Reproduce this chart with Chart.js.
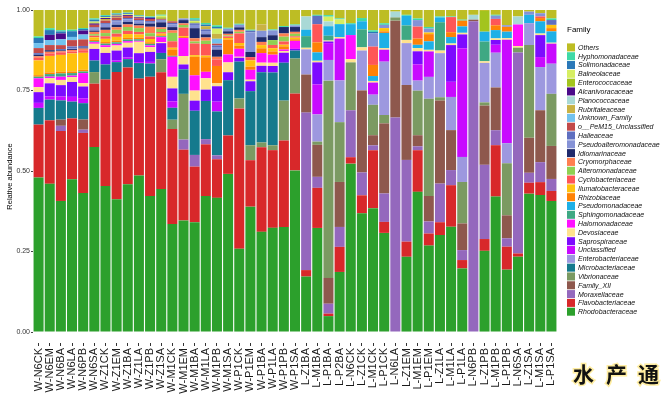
<!DOCTYPE html>
<html><head><meta charset="utf-8">
<script src="https://cdn.jsdelivr.net/npm/chart.js@4.4.1/dist/chart.umd.min.js"></script>
<style>html,body{margin:0;padding:0;background:#fff;overflow:hidden}#c{display:block}</style>
</head><body>
<canvas id="c" width="667" height="397"></canvas>
<script>
const samples = ["W-N6CK","W-N6EM","W-N6BA","W-N6LA","W-N6PB","W-N6SA","W-Z1CK","W-Z1EM","W-Z1BA","W-Z1LA","W-Z1PB","W-Z1SA",
"W-M1CK","W-M1EM","W-M1BA","W-M1LA","W-M1PB","W-M1SA","W-P1CK","W-P1EM","W-P1BA","W-P1LA","W-P1PB","W-P1SA",
"L-Z1BA","L-M1BA","L-P1BA","L-P2BA","L-N6CK","L-Z1CK","L-M1CK","L-P1CK","L-N6LA","L-Z1EM","L-M1EM","L-P1EM",
"L-Z1LA","L-M1LA","L-P1LA","L-N6PB","L-Z1PB","L-M1PB","L-P1PB","L-N6SA","L-Z1SA","L-M1SA","L-P1SA"];

// legend order (top to bottom)
const families = ["Others","Hyphomonadaceae","Solimonadaceae","Balneolaceae","Enterococcaceae","Alcanivoracaceae",
"Planococcaceae","Rubritaleaceae","Unknown_Family","o__PeM15_Unclassified","Halieaceae","Pseudoalteromonadaceae",
"Idiomarinaceae","Cryomorphaceae","Alteromonadaceae","Cyclobacteriaceae","Ilumatobacteraceae","Rhizobiaceae",
"Pseudomonadaceae","Sphingomonadaceae","Halomonadaceae","Devosiaceae","Saprospiraceae","Unclassified",
"Enterobacteriaceae","Microbacteriaceae","Vibrionaceae","Family_XII","Moraxellaceae","Flavobacteriaceae","Rhodobacteraceae"];

const colors = ["#bdbd24","#3fd9a6","#2a78b8","#d6ee62","#a3c41e","#4b0a8a",
"#a9d9d6","#c9b244","#72c2ee","#c24a4a","#5f6fc0","#8592d6",
"#1f2a6c","#ff7f50","#8fd052","#ff5656","#ffc20e","#ff8205",
"#1eb0e6","#3fa883","#ff10ff","#ffe28e","#7d0aff","#c80aff",
"#9d98df","#157a8d","#7b9a62","#8e584d","#9468bd","#d8282a","#2ca02c"];

// values in percent, per family, one per sample
const Rhodobacteraceae = [49.1,46.5,40.3,48.2,42.5,57.5,45.6,41.5,46.0,49.3,42.2,45.3, 33.5,34.2,33.8,42.0,41.0,49.8,26.0,39.4,31.4,32.2,32.7,50.3, 17.2,32.2,5.0,18.7,52.4,36.9,37.9,30.7,0,23.4,43.1,26.5, 30.1,32.7,19.8,0,25.5,42.5,19.3,23.4,43.1,42.5,40.5];
const Flavobacteriaceae = [16.8,19.9,21.5,19.2,18.4,19.7,33.2,39.8,36.4,30.5,37.0,37.0, 29.4,21.7,17.1,16.0,11.8,12.1,43.8,14.6,26.5,24.0,26.9,23.9, 2.0,12.4,0.8,7.8,2.0,5.6,17.7,3.4,0,4.7,12.8,3.7, 4.0,12.9,2.6,0,3.7,16.1,7.1,1.0,3.4,4.0,3.1];
const Moraxellaceae = [0,0,1.6,0,1.0,0,0,0,0,0,0,0, 0,3.1,3.6,1.6,1.2,0,0,0,0,0,0,0, 48.8,3.4,3.1,6.2,14.6,7.1,1.5,8.8,66.5,25.4,1.2,3.7, 12.0,4.7,3.1,96.4,23.3,4.7,2.6,62.4,3.1,6.2,3.7];
const Family_XII = [0,0,1.9,0,3.1,0,0,0,0,0,0,0, 0,0,0,0,0,0,0,0,0,0,0,0, 11.8,9.9,8.1,14.0,0,25.5,3.1,21.7,30.0,23.3,3.4,7.8, 25.8,12.4,8.3,0.5,18.6,13.4,7.1,0,10.9,16.1,10.2];
const Vibrionaceae = [0,0,0,0,0,3.6,0,0,0,0,0,4.1, 2.9,14.0,0,0,0,0,3.1,4.7,1.5,1.5,12.4,10.9, 0,1.0,62.0,18.6,14.9,0,9.3,2.6,1.0,0,13.7,29.8, 1.0,0,12.9,0,1.0,0,16.1,1.5,28.9,0,16.1];
const Microbacteriaceae = [5.3,6.5,5.9,5.3,5.0,3.6,4.7,3.1,2.6,4.9,4.1,2.0, 3.7,7.5,13.6,11.8,13.4,17.4,11.5,17.0,22.0,22.5,11.8,2.5, 0,0,0,0,0,0,0,0,0,0,0,0, 0,0,0,0,0,0,0,0,0,0,0];
const Enterobacteriaceae = [0,0,0,0,0,0,0,0,0,0,0,0, 0,0,0,0,0,0,0,0,0,0,0,0, 7.8,8.4,6.5,13.0,0,12.4,3.1,16.5,0,13.0,3.1,6.7, 13.7,10.3,7.8,0,12.4,10.9,6.2,0,6.8,13.4,9.3];
const Unclassified = [1.6,1.0,1.2,1.5,1.5,0,0,0.5,0.5,0.3,0.5,0, 2.0,0,0,0,3.0,0,0,0,0,0,0,0, 0,9.3,5.3,13.0,0,0,3.7,3.7,0,0,5.0,7.8, 0,4.7,33.8,0,0,2.5,32.0,0,0,3.1,6.2];
const Saprospiraceae = [3.4,4.1,3.5,4.7,3.6,3.6,3.6,3.1,3.1,2.8,3.1,3.1, 4.0,1.5,3.1,3.5,4.7,2.5,1.2,3.1,2.0,2.0,3.1,0.5, 0,6.8,0.5,0,0,0,0,0,0,0,4.0,0, 0,11.4,4.3,0,0,1.5,0,0,0,6.8,0];
const Devosiaceae = [1.6,1.6,1.6,1.5,1.0,1.6,1.8,1.6,1.5,3.6,1.5,0.3, 3.6,2.6,3.1,3.5,1.0,3.1,0.3,0.5,1.0,1.0,0.5,0, 0.5,0.5,0.3,0.5,1.0,1.0,0.5,0.5,0,1.0,1.0,0.5, 0.8,0.5,0.5,0,0.5,0.5,0.5,0.5,0,0.5,0.3];
const Halomonadaceae = [2.8,0.5,1.0,0.5,3.1,0.5,0.6,0.5,0.5,0.3,0.5,1.6, 6.2,5.5,4.7,2.0,0,2.5,2.5,3.1,3.0,2.5,0.5,2.5, 0,0,0,0,7.5,0,0,0,0,0,0,0, 0,0,0,0,0,0,0,6.7,0,0,0];
const Sphingomonadaceae = [0.5,0.8,1.0,0.8,0.5,0.3,0.5,0.5,0.5,0.5,0.5,0.3, 0.3,0,0,0,0,0,0,0,0,0,0,0, 3.6,0,1.5,0,0,5.6,0,0,0,4.5,0,0, 8.8,0,0,0,6.2,0,0,0,0,0,0];
const Pseudomonadaceae = [0,0,0,0,0,0,0,0,0,0,0,0, 0,0,0,0,0,0,0,0,0,0,0,0, 2.0,2.6,3.0,4.0,3.4,2.5,1.5,4.7,0,3.0,1.0,2.6, 1.5,2.0,2.0,0,3.1,2.6,2.0,0,2.6,3.8,3.5];
const Rhizobiaceae = [0.5,0.5,0.5,0.5,0.5,0.4,0.5,0.5,0.5,0.5,0.5,0.3, 2.0,0.3,5.7,4.5,5.2,4.7,1.0,1.0,1.5,1.0,1.0,0.5, 0,3.1,0,0,0,0,3.4,0.5,0,0,1.9,2.2, 0,1.5,1.8,0,0,1.5,1.5,0,0,1.0,1.0];
const Ilumatobacteraceae = [4.7,5.2,5.2,5.7,5.2,0.8,1.0,1.2,1.2,1.0,1.0,0.5, 0.5,0.3,0.5,0.5,0,0.5,0.8,2.0,1.0,1.0,0.5,0.5, 0,0,0,0,0,0,0,1.0,0,0,0,0.5, 0,0,0,0,0,0,0,0,0,0,1.0];
const Cyclobacteriaceae = [0.8,0.8,0.8,0.6,0.8,0.5,0.8,1.0,1.0,0.8,0.8,0.5, 2.0,2.6,3.6,3.6,2.0,0.5,3.0,1.0,0,1.0,1.0,0.4, 0,5.6,0,0,0,0,5.6,0,0,0,3.7,0, 0,4.7,0,0,0,2.0,0,0,0,0.5,0];
const Alteromonadaceae = [0,0,0,0,0,0.5,1.0,1.2,1.2,1.2,1.0,1.0, 2.6,0.8,0.6,1.0,0,0.3,0.5,0,0,1.5,1.5,0.8, 0,0,0,0,0,0,0,0,0,0,0,0, 0,0,0,0,0,0,0,0,0,0,0];
const Cryomorphaceae = [0.5,0.5,0.3,0.5,0.5,0.7,1.0,0.8,0.8,0.8,2.0,0.5, 0.8,0.5,1.0,1.0,0.8,0.5,0.6,0,1.0,0,1.0,0.6, 0,0,0,0,0,0,0,0,0,0,0,0, 0,0,0,0,0,0,0,0,0,0,0];
const Idiomarinaceae = [0.5,0.5,0.3,0.3,0.3,0.4,0.8,0.8,0.8,0.6,1.0,1.6, 1.0,1.0,3.1,1.0,2.2,0.8,0.8,1.6,1.5,1.5,2.0,1.5, 0,0,0,0,0,0,0,0,0,0,0,0, 0,0,0,0,0,0,0,0,0,0,0];
const Pseudoalteromonadaceae = [0,0,0,0.3,0,0.6,0.8,1.0,0.8,0.8,0.5,0.5, 0.8,0.5,1.0,1.0,0.8,0.8,0.8,6.2,2.0,1.5,0,0.5, 0,0,0,0,0,0,4.0,1.0,0,0,2.0,1.2, 0,0,0,0,0,1.0,0.5,0,1.0,1.0,0];
const Halieaceae = [0.5,0,0.4,0.5,0.5,0.4,0.5,0.4,0.4,0.3,0.3,0.3, 0.5,0,0.5,0.5,0.5,0,0,0.5,0,0,0,0, 0,2.6,0,0,0,0,0,0,0,0,0,0, 0,0,0,0,0,0,0,0,0,0,1.5];
const PeM15_Unclassified = [1.6,1.6,1.2,2.0,2.0,0.8,0.8,0.8,0.6,0.6,0.6,0.3, 0.5,0,0,0,0.5,0,0,0,0,0,0,0, 0,0,0,0,0,0,0,0,0,0,0,0, 0,0,0,0,0,0,0,0,0,0,0];
const Unknown_Family = [1.6,1.6,1.8,1.0,1.5,0,0,0,0,0,0,0, 0,0,0,0,1.5,0,0,0,0,0,0,0, 0,0,0,0,0,0,0,0,0,0,0,0, 0,0,0,0,0,0,0,0,0,0,0];
const Rubritaleaceae = [0,0,0,0,0,0,0.5,0.3,0,0,0,0, 0,0,0,1.0,1.5,0,0,0,2.0,0,0,0, 0,0,0,0,0,0,0,0,0,0,0,0, 0,0,0,0,0,0,0,0,0,0,0];
const Planococcaceae = [0,0,0,0,0,0,0,0,0,0,0,0, 0,0,0,0,0,0,0,0,0,0,0,0, 4.1,0,1.5,0,0,0,0,0,1.8,0,0,0, 0,0,0,1.5,0,0,0,2.5,0,0,0];
const Alcanivoracaceae = [0,1.6,1.8,0,1.2,0.4,0.3,0.3,0.3,0.3,0.3,0, 0,0,0,0,0,0,0,0,0,0,0,0, 0,0,0,0,0,0,0,0,0,0,0,0, 0,0,0,0,0,0,0,0,0,0,0];
const Enterococcaceae = [0,0,0,0,0,0.3,0,0,0,0,0,0.5, 0,0,0.3,0,0,0,0,0,0,0,0,0, 0,0,0,0,0,0,0,0,0,0,0,0, 0,0,0,0,6.5,0,0,0,0,0,0];
const Balneolaceae = [0,0,0,0,0,0.3,0.3,0.3,0.3,0.3,0,0.5, 0,0,0.5,0,1.6,0,0,0,0,0,0,0, 0,0,1.5,1.5,0,0,0,0,0,0,0,0, 0,0,0,0,0,0,0,0,0,0,0];
const Solimonadaceae = [1.6,1.5,0.6,1.8,0.5,0.6,0.3,0.3,0.3,0.2,0.3,0, 0,0,0.3,0.5,0.5,0,0,0,0,0,0,0, 0,0,0,0,0,0,0.5,0,0,0,0,0, 0,0,0,0,0,0,0,0,0,0,0];
const Hyphomonadaceae = [0.5,0.6,0.4,0.5,0.3,0.4,0.3,0.2,0.2,0.2,0.2,0.3, 0,0,0.5,0.5,0.5,0.3,0.3,0.3,0,0.3,0.3,0.3, 0,0.3,0.5,0.3,0.3,1.0,0.5,0.5,0,0.3,0.5,0.5, 0.3,0.2,0.3,0,0,0.3,0,0,0,0,0.5];
const Others = [8.4,5.7,6.2,6.2,5.5,2.6,1.6,1.0,0.8,1.6,2.0,1.5, 3.5,2.6,2.5,4.0,4.7,5.6,4.3,6.2,4.5,6.0,5.0,4.5, 2.0,1.5,1.6,2.6,4.1,2.5,6.2,4.1,0.5,1.5,2.6,5.2, 2.0,2.0,3.0,1.5,0.3,1.5,4.7,2.0,0.5,1.0,2.6];

const yTickValues = [0, 0.25, 0.5, 0.75, 1];

const seriesByFamily = {
  "Others": Others, "Hyphomonadaceae": Hyphomonadaceae, "Solimonadaceae": Solimonadaceae,
  "Balneolaceae": Balneolaceae, "Enterococcaceae": Enterococcaceae, "Alcanivoracaceae": Alcanivoracaceae,
  "Planococcaceae": Planococcaceae, "Rubritaleaceae": Rubritaleaceae, "Unknown_Family": Unknown_Family,
  "o__PeM15_Unclassified": PeM15_Unclassified, "Halieaceae": Halieaceae, "Pseudoalteromonadaceae": Pseudoalteromonadaceae,
  "Idiomarinaceae": Idiomarinaceae, "Cryomorphaceae": Cryomorphaceae, "Alteromonadaceae": Alteromonadaceae,
  "Cyclobacteriaceae": Cyclobacteriaceae, "Ilumatobacteraceae": Ilumatobacteraceae, "Rhizobiaceae": Rhizobiaceae,
  "Pseudomonadaceae": Pseudomonadaceae, "Sphingomonadaceae": Sphingomonadaceae, "Halomonadaceae": Halomonadaceae,
  "Devosiaceae": Devosiaceae, "Saprospiraceae": Saprospiraceae, "Unclassified": Unclassified,
  "Enterobacteriaceae": Enterobacteriaceae, "Microbacteriaceae": Microbacteriaceae, "Vibrionaceae": Vibrionaceae,
  "Family_XII": Family_XII, "Moraxellaceae": Moraxellaceae, "Flavobacteriaceae": Flavobacteriaceae,
  "Rhodobacteraceae": Rhodobacteraceae
};

// relative abundance: each sample scaled to its own total
const totals = samples.map((s, i) => families.reduce((a, f) => a + (seriesByFamily[f][i] || 0), 0));

const datasets = [];
for (let k = families.length - 1; k >= 0; k--) {
  const f = families[k];
  datasets.push({
    label: f,
    data: seriesByFamily[f].map((v, i) => v / totals[i]),
    backgroundColor: colors[k],
    borderWidth: 0,
    barPercentage: 0.9,
    categoryPercentage: 1.0
  });
}

const FONT = '"Liberation Sans", Arial, sans-serif';

const legendPlugin = {
  id: 'familyLegend',
  afterDraw(chart) {
    const ctx = chart.ctx;
    ctx.save();
    ctx.fillStyle = '#000';
    ctx.font = '8px ' + FONT;
    ctx.textBaseline = 'alphabetic';
    ctx.textAlign = 'left';
    ctx.fillText('Family', 567, 32);
    ctx.font = 'italic 7px ' + FONT;
    ctx.textBaseline = 'middle';
    for (let k = 0; k < families.length; k++) {
      const yc = 47.4 + k * 8.81;
      ctx.fillStyle = colors[k];
      ctx.fillRect(567, yc - 4, 8, 8);
      ctx.fillStyle = '#111';
      ctx.fillText(families[k], 578, yc + 0.5);
    }
    // watermark
    ctx.font = 'bold 21px "Noto Sans CJK SC", sans-serif';
    ctx.textBaseline = 'middle';
    ctx.lineWidth = 3;
    ctx.strokeStyle = 'rgba(255,235,150,0.9)';
    const wm = ['水', '产', '通'];
    const wx = [573, 606, 638];
    for (let i = 0; i < 3; i++) {
      ctx.strokeText(wm[i], wx[i], 374);
      ctx.fillStyle = '#111';
      ctx.fillText(wm[i], wx[i], 374);
    }
    ctx.restore();
  }
};

new Chart(document.getElementById('c'), {
  type: 'bar',
  data: { labels: samples, datasets },
  plugins: [legendPlugin],
  options: {
    responsive: false,
    animation: false,
    devicePixelRatio: 1,
    layout: { padding: { left: 0, right: 110, top: 10, bottom: 0 } },
    plugins: { legend: { display: false }, tooltip: { enabled: false } },
    scales: {
      x: {
        stacked: true,
        border: { display: false },
        grid: { display: true, drawOnChartArea: false, drawTicks: true, tickLength: 3, offset: false, color: '#333', lineWidth: 1 },
        ticks: { autoSkip: false, minRotation: 90, maxRotation: 90, padding: 2, color: '#1a1a1a', font: { family: FONT, size: 11 } },
        afterFit(s) { s.height = 54; }
      },
      y: {
        stacked: true,
        min: -0.034, max: 1,
        border: { display: false },
        grid: { display: true, drawOnChartArea: false, drawTicks: true, tickLength: 2, color: '#444' },
        ticks: { padding: 1, color: '#333', font: { family: FONT, size: 7 }, callback: v => Number(v).toFixed(2) },
        afterBuildTicks(s) { s.ticks = yTickValues.map(v => ({ value: v })); },
        title: { display: true, text: 'Relative abundance', color: '#000', font: { family: FONT, size: 7.5 }, padding: { top: 5, bottom: 0 } },
        afterFit(s) { s.width = 33; }
      }
    }
  }
});
</script>
</body></html>
